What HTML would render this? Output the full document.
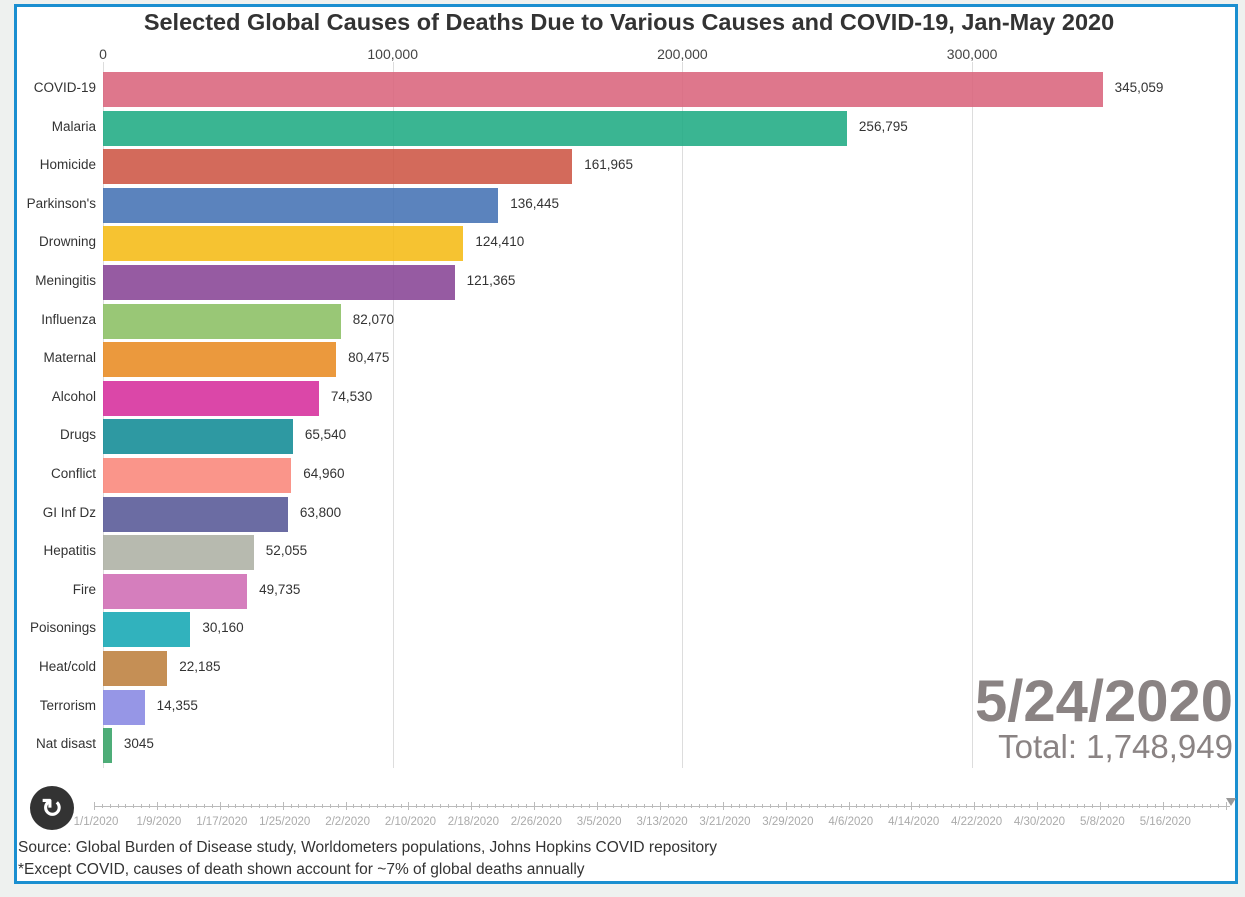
<!DOCTYPE html>
<html><head><meta charset="utf-8"><style>
body{margin:0;width:1245px;height:897px;background:#eef1ef;font-family:"Liberation Sans",sans-serif;position:relative;overflow:hidden}
#f{position:absolute;left:14px;top:4px;width:1218px;height:874px;border:3px solid #1a8fd0;background:#fff}
.a{position:absolute}
.t{position:absolute;top:2px;left:0;width:1224px;text-align:center;font-weight:bold;font-size:23.5px;color:#333}
</style></head><body><div id="f">
<div class="t">Selected Global Causes of Deaths Due to Various Causes and COVID-19, Jan-May 2020</div>
</div>
<div id="c"></div>
<script>
var c=document.getElementById('c'),h='';
var ox=103,s=2.897/1000;
[[0,'0'],[100000,'100,000'],[200000,'200,000'],[300000,'300,000']].forEach(function(t){var x=ox+t[0]*s;h+='<div class="a" style="left:'+x+'px;top:62px;width:1px;height:706px;background:#ddd"></div><div class="a" style="left:'+x+'px;top:46px;font-size:14px;color:#444;transform:translateX(-50%)">'+t[1]+'</div>';});
var d=[['COVID-19',345059,'#d9647c','345,059'],['Malaria',256795,'#1fab83','256,795'],['Homicide',161965,'#cd5544','161,965'],["Parkinson's",136445,'#4472b4','136,445'],['Drowning',124410,'#f5bb14','124,410'],['Meningitis',121365,'#884495','121,365'],['Influenza',82070,'#8bbf63','82,070'],['Maternal',80475,'#e88b22','80,475'],['Alcohol',74530,'#d62d9c','74,530'],['Drugs',65540,'#118b95','65,540'],['Conflict',64960,'#f9867a','64,960'],['GI Inf Dz',63800,'#575896','63,800'],['Hepatitis',52055,'#adb1a4','52,055'],['Fire',49735,'#cf6cb4','49,735'],['Poisonings',30160,'#14a7b4','30,160'],['Heat/cold',22185,'#bd7f3e','22,185'],['Terrorism',14355,'#8787e2','14,355'],['Nat disast',3045,'#35a265','3045']];
d.forEach(function(r,i){var y=72+i*38.6,w=r[1]*s;
h+='<div class="a" style="left:'+ox+'px;top:'+y+'px;width:'+w+'px;height:35px;background:'+r[2]+';opacity:.88"></div>';
h+='<div class="a" style="right:1149px;top:'+(y+8)+'px;font-size:13.5px;color:#333;white-space:nowrap">'+r[0]+'</div>';
h+='<div class="a" style="left:'+(ox+w+12)+'px;top:'+(y+8)+'px;font-size:13.5px;color:#333">'+r[3]+'</div>';});
h+='<div class="a" style="right:12px;top:668px;font-size:58px;font-weight:bold;color:#8a8383">5/24/2020</div>';
h+='<div class="a" style="right:12px;top:728px;font-size:33px;color:#8a8383">Total: 1,748,949</div>';
h+='<div class="a" style="left:94px;top:806px;width:1136px;height:1px;background:#bbb"></div>';
for(var k=0;k<=144;k++){var x=94+k*7.86;h+='<div class="a" style="left:'+x+'px;top:'+(k%8==0?802:804)+'px;width:1px;height:'+(k%8==0?8:4)+'px;background:#bbb"></div>';}
var L=['1/1/2020','1/9/2020','1/17/2020','1/25/2020','2/2/2020','2/10/2020','2/18/2020','2/26/2020','3/5/2020','3/13/2020','3/21/2020','3/29/2020','4/6/2020','4/14/2020','4/22/2020','4/30/2020','5/8/2020','5/16/2020'];
L.forEach(function(l,i){h+='<div class="a" style="left:'+(96+i*62.9)+'px;top:816px;font-size:11.5px;color:#aaa;transform:translateX(-50%)">'+l+'</div>';});
h+='<div class="a" style="left:1226px;top:798px;width:0;height:0;border-left:5px solid transparent;border-right:5px solid transparent;border-top:8px solid #999"></div>';
h+='<div class="a" style="left:30px;top:786px;width:44px;height:44px;border-radius:50%;background:#333;color:#fff;font-size:26px;text-align:center;line-height:44px;font-weight:bold">&#x21BB;</div>';
h+='<div class="a" style="left:18px;top:839px;font-size:15.5px;color:#333">Source: Global Burden of Disease study, Worldometers populations, Johns Hopkins COVID repository</div>';
h+='<div class="a" style="left:18px;top:861px;font-size:15.5px;color:#333">*Except COVID, causes of death shown account for ~7% of global deaths annually</div>';
c.innerHTML=h;
</script>
</body></html>
